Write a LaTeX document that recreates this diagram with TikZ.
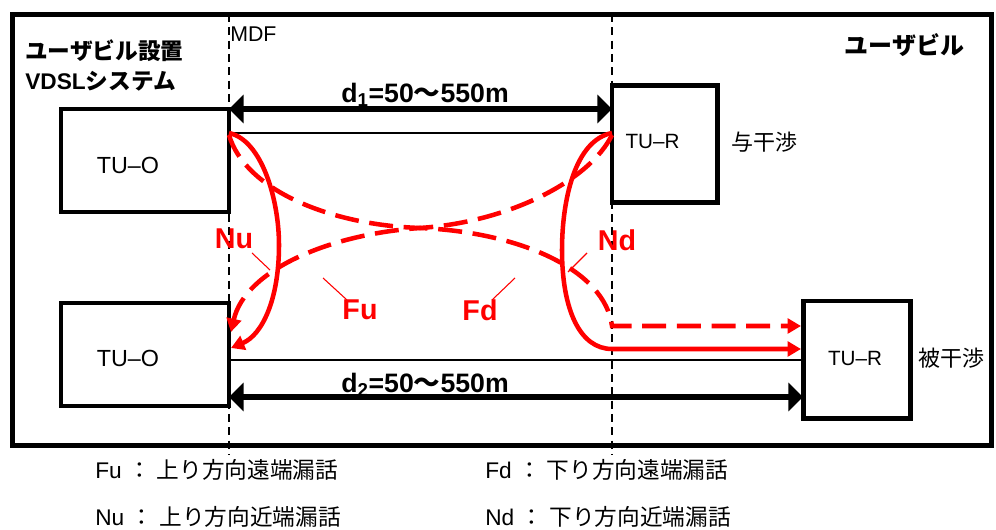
\documentclass[tikz,border=0pt]{standalone}
\usepackage{fontspec}
\setmainfont{Liberation Sans}
\newfontfamily\jp{Noto Sans CJK JP}
\usetikzlibrary{arrows.meta}
\begin{document}
\begin{tikzpicture}[x=0.75pt,y=-0.75pt,
  box/.style={draw,line width=3.5pt,fill=white,inner sep=0pt,outer sep=0pt},
  frame/.style={line width=3.75pt},
  vdash/.style={line width=0.9pt,dash pattern=on 6pt off 4pt},
  thinline/.style={line width=0.9pt},
  dist/.style={line width=4pt,{Triangle[length=11pt,width=21pt]}-{Triangle[length=11pt,width=21pt]}},
  xsolid/.style={red,line width=3.4pt},
  xdashed/.style={red,line width=3.4pt,dash pattern=on 18pt off 8pt},
  rtip/.style={-{Triangle[length=10pt,width=11pt]}},
  lbl/.style={inner sep=0pt},
  tutext/.style={lbl,font=\fontsize{17.5}{20}\selectfont},
  turtext/.style={lbl,font=\fontsize{15.5}{18}\selectfont},
  jptext/.style={lbl,font=\jp\fontsize{16.5}{18}\selectfont},
  title/.style={lbl,anchor=west,font=\fontsize{17}{20}\selectfont\bfseries},
  dlabel/.style={lbl,font=\fontsize{20}{22}\selectfont\bfseries},
  rlbl/.style={lbl,red,font=\fontsize{21.5}{24}\selectfont\bfseries},
  leader/.style={red,line width=0.8pt},
  legend/.style={lbl,anchor=west,font=\fontsize{17}{20}\selectfont},
]
\useasboundingbox (0,0) rectangle (996,530);
% outer frame
\draw[frame] (12.5,14.5) rectangle (991,446);
% vertical dashed reference lines
\coordinate (mdfT) at (229,14);
\coordinate (mdfB) at (229,455);
\coordinate (rT) at (612,14);
\coordinate (rB) at (612,455);
\draw[vdash] (mdfT) -- (mdfB);
\draw[vdash] (rT) -- (rB);
% boxes
\node[box,minimum width=126pt,minimum height=77.25pt] (tuo1) at (145,160.5) {};
\node[box,minimum width=126pt,minimum height=77.25pt] (tuo2) at (145,354.5) {};
\node[box,minimum width=79.1pt,minimum height=87.75pt] (tur1) at (664.75,144) {};
\node[box,minimum width=80.6pt,minimum height=88.1pt] (tur2) at (857,359.75) {};
\node[tutext] (tuo1t) at (128,165) {TU–O};
\node[tutext] (tuo2t) at (128,358) {TU–O};
\node[turtext] (tur1t) at (652.5,141) {TU–R};
\node[turtext] (tur2t) at (855,358) {TU–R};
\node[jptext] (yo) at (764,142) {与干渉};
\node[jptext] (hi) at (951,358) {被干渉};
% titles
\node[title] (t1) at (25,51) {\jp ユーザビル設置};
\node[title] (t2) at (25,81) {VDSL{\jp システム}};
\node[lbl,font=\jp\fontsize{18}{20}\selectfont\bfseries] (t3) at (904.5,45) {ユーザビル};
\node[lbl,anchor=west,font=\fontsize{16}{18}\selectfont] (mdf) at (230,34) {MDF};
% distance arrows and lines
\coordinate (L1a) at (229,133);
\coordinate (L1b) at (612,133);
\coordinate (L2a) at (229,360);
\coordinate (L2b) at (803,360);
\coordinate (d2a) at (229,397);
\coordinate (d2b) at (803,397);
\draw[dist] (tuo1.north east) -- (tuo1.north east -| tur1.west);
\draw[thinline] (L1a) -- (L1b);
\draw[thinline] (L2a) -- (L2b);
\draw[dist] (d2a) -- (d2b);
\node[dlabel] (d1) at (425,95) {d\textsubscript{1}=50{\jp 〜}550m};
\node[dlabel] (d2) at (425,385) {d\textsubscript{2}=50{\jp 〜}550m};
% crosstalk paths
\coordinate (nuS) at (229,133);
\coordinate (nuE) at (231,348);
\coordinate (ndS) at (612,133);
\coordinate (ndE) at (801,349);
\coordinate (fdS) at (229,135);
\coordinate (fdE) at (801,326);
\coordinate (fuS) at (612,135);
\coordinate (fuE) at (231,332);
\draw[xsolid,rtip] (nuS) .. controls (262,140) and (279,200) .. (279,245) .. controls (279,300) and (262,335) .. (nuE);
\draw[xsolid,rtip] (ndS) .. controls (575,140) and (562,200) .. (562,250) .. controls (562,310) and (580,349) .. (612,349) -- (ndE);
\draw[xdashed,rtip] (fdS) .. controls (245,190) and (330,225) .. (420,228) .. controls (520,232) and (605,270) .. (612,326) -- (fdE);
\draw[xdashed,rtip] (fuS) .. controls (590,180) and (510,222) .. (420,228) .. controls (330,234) and (245,270) .. (fuE);
% red labels
\node[rlbl] (nu) at (234,239) {Nu};
\node[rlbl] (nd) at (617,240) {Nd};
\node[rlbl] (fu) at (360,310) {Fu};
\node[rlbl] (fd) at (480,310) {Fd};
\coordinate (nuA) at (252,253);
\coordinate (nuB) at (270,270);
\coordinate (ndA) at (587,253);
\coordinate (ndB) at (568,272);
\coordinate (fuA) at (323,278);
\coordinate (fuB) at (347,300);
\coordinate (fdA) at (515,278);
\coordinate (fdB) at (492,300);
\draw[leader] (nuA) -- (nuB);
\draw[leader] (ndA) -- (ndB);
\draw[leader] (fuA) -- (fuB);
\draw[leader] (fdA) -- (fdB);
% legend
\node[legend] (lg1) at (95,470) {Fu {\jp ：} {\jp 上り方向遠端漏話}};
\node[legend] (lg2) at (95,517) {Nu {\jp ：} {\jp 上り方向近端漏話}};
\node[legend] (lg3) at (485,470) {Fd {\jp ：} {\jp 下り方向遠端漏話}};
\node[legend] (lg4) at (485,517) {Nd {\jp ：} {\jp 下り方向近端漏話}};
\end{tikzpicture}
\end{document}
